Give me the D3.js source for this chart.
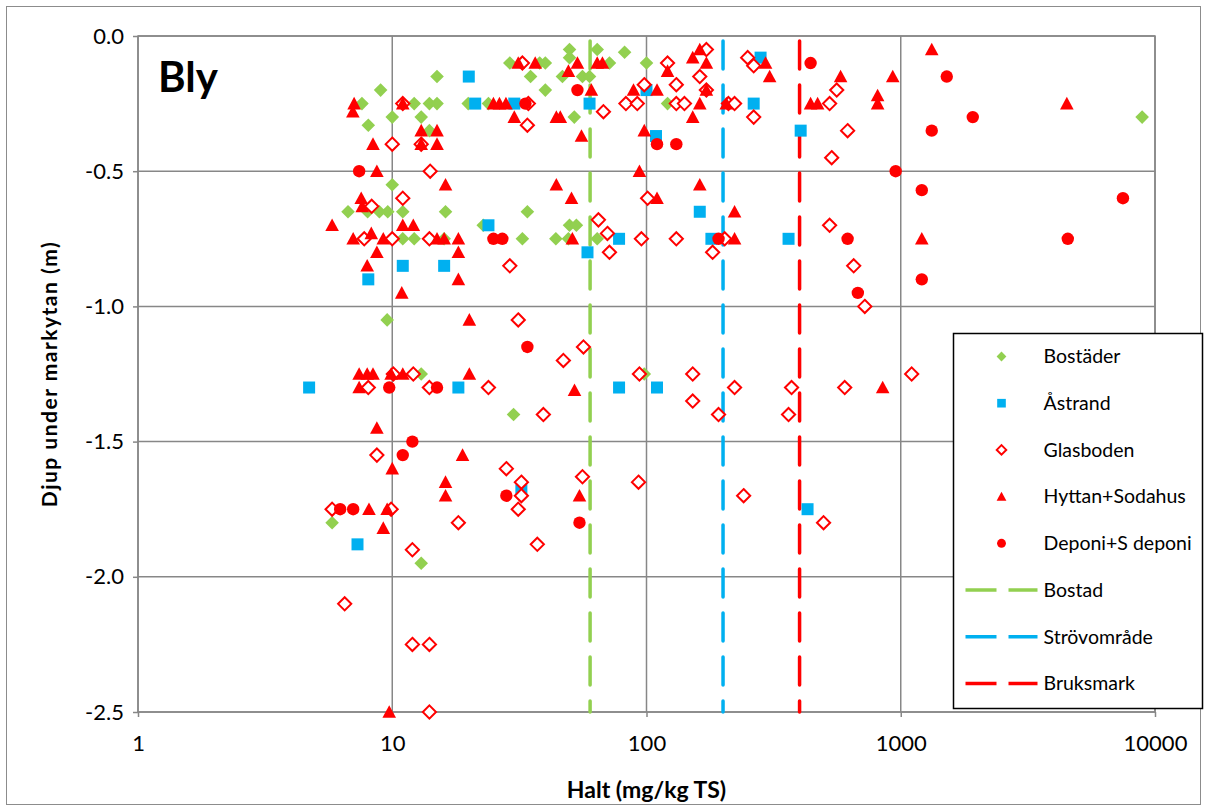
<!DOCTYPE html>
<html>
<head>
<meta charset="utf-8">
<script src="https://cdn.jsdelivr.net/npm/d3@7"></script>
<style>
  body { margin: 0; background: #fff; }
  text { font-family: Lato, "Open Sans", sans-serif; }
</style>
</head>
<body>
<div id="chart"></div>
<script>
// tick labels on the axes
const xTicks = [1, 10, 100, 1000, 10000];
const yTicks = [0, -0.5, -1, -1.5, -2, -2.5];

// series names (legend order)
const seriesNames = ["Bostäder", "Åstrand", "Glasboden", "Hyttan+Sodahus", "Deponi+S deponi"];

// each point is [halt (mg/kg TS), djup (m)]
const bostader = [
  [49.8, -0.05], [64, -0.05], [82, -0.06], [49.8, -0.08],
  [29, -0.1], [38, -0.1], [40, -0.1], [71.5, -0.1], [100, -0.1],
  [15, -0.15], [35, -0.15], [46.7, -0.15], [56, -0.15], [59.7, -0.15],
  [9, -0.2], [40, -0.2],
  [7.6, -0.25], [12.2, -0.25], [14, -0.25], [15, -0.25], [19.9, -0.25], [23.9, -0.25], [121, -0.25],
  [10, -0.3], [13, -0.3], [52, -0.3], [8900, -0.3], [8.05, -0.33], [14, -0.35],
  [10, -0.55],
  [6.7, -0.65], [8, -0.65], [8.9, -0.65], [9.6, -0.65], [11, -0.65], [16.2, -0.65], [34, -0.65],
  [22.8, -0.7], [49.8, -0.7], [53, -0.7],
  [7.7, -0.75], [10, -0.75], [11, -0.75], [12.2, -0.75], [16, -0.75], [32.5, -0.75], [44, -0.75], [49.3, -0.75], [64, -0.75],
  [9.55, -1.05], [13, -1.25], [98, -1.25], [30, -1.4], [5.8, -1.8], [13, -1.95]
];

const astrand = [
  [281, -0.08], [20, -0.15], [100, -0.2], [21.2, -0.25], [30.2, -0.25], [59.7, -0.25], [264, -0.25],
  [404, -0.35], [109, -0.37], [162, -0.65], [23.9, -0.7], [78, -0.75], [180, -0.75], [362, -0.75],
  [58.6, -0.8], [11, -0.85], [16, -0.85], [8.05, -0.9], [4.71, -1.3], [18.2, -1.3], [78, -1.3],
  [110, -1.3], [32.2, -1.68], [430, -1.75], [7.3, -1.88]
];

const glasboden = [
  [172, -0.05], [250, -0.08], [32.5, -0.1], [121, -0.1], [264, -0.11], [162, -0.15], [98, -0.18],
  [131, -0.18], [172, -0.2], [560, -0.2], [11, -0.25], [34.3, -0.25], [83, -0.25], [92, -0.25],
  [131, -0.25], [141, -0.25], [210, -0.25], [222, -0.25], [525, -0.25], [67.7, -0.28], [264, -0.3],
  [34, -0.33], [618, -0.35], [10, -0.4], [13, -0.4], [535, -0.45], [14.1, -0.5], [11, -0.6],
  [101, -0.6], [8.3, -0.63], [64.7, -0.68], [525, -0.7], [70.2, -0.73], [7.76, -0.75], [10, -0.75],
  [14, -0.75], [95.5, -0.75], [131, -0.75], [203, -0.75], [71.5, -0.8], [182, -0.8], [29, -0.85],
  [653, -0.85], [722, -1.0], [31.3, -1.05], [56.5, -1.15], [47.1, -1.2], [10.1, -1.25], [12.1, -1.25],
  [93.8, -1.25], [152, -1.25], [1104, -1.25], [8.05, -1.3], [14, -1.3], [23.9, -1.3], [222, -1.3],
  [372, -1.3], [602, -1.3], [152, -1.35], [39.3, -1.4], [192, -1.4], [362, -1.4], [8.7, -1.55],
  [28.1, -1.6], [56, -1.63], [32.2, -1.65], [93, -1.65], [32.2, -1.7], [241, -1.7], [5.8, -1.75],
  [9.9, -1.75], [31.3, -1.75], [18.2, -1.8], [497, -1.8], [37.2, -1.88], [12, -1.9], [6.5, -2.1],
  [12, -2.25], [14, -2.25], [14, -2.5]
];

const hyttan = [
  [162, -0.05], [1324, -0.05], [152, -0.08], [31.3, -0.1], [36.5, -0.1], [53.5, -0.1], [64, -0.1],
  [67.1, -0.1], [172, -0.1], [294, -0.1], [49.3, -0.13], [121, -0.13], [305, -0.15], [580, -0.15],
  [930, -0.15], [60.7, -0.2], [88.9, -0.2], [110, -0.2], [172, -0.2], [811, -0.22], [7.08, -0.25],
  [11, -0.25], [25, -0.25], [26.4, -0.25], [28, -0.25], [162, -0.25], [206, -0.25], [442, -0.25],
  [471, -0.25], [811, -0.25], [4500, -0.25], [7, -0.28], [30.2, -0.3], [44.2, -0.3], [45.8, -0.3],
  [152, -0.3], [13, -0.35], [15, -0.35], [98, -0.35], [55.5, -0.37], [8.4, -0.4], [13, -0.4],
  [15, -0.4], [8.7, -0.5], [93.8, -0.5], [16.2, -0.55], [44.2, -0.55], [162, -0.55], [7.55, -0.6],
  [50.7, -0.6], [110, -0.6], [7.62, -0.63], [222, -0.65], [5.8, -0.7], [11, -0.7], [12.1, -0.7],
  [8.27, -0.73], [7.02, -0.75], [9.22, -0.75], [15, -0.75], [16, -0.75], [18.2, -0.75], [51.1, -0.75],
  [222, -0.75], [1210, -0.75], [8.7, -0.8], [18.2, -0.8], [7.97, -0.85], [18.2, -0.9], [10.9, -0.95],
  [20.1, -1.05], [7.41, -1.25], [7.97, -1.25], [8.4, -1.25], [9.9, -1.25], [11, -1.25], [20.1, -1.25],
  [7.41, -1.3], [849, -1.3], [52.1, -1.31], [8.7, -1.45], [18.9, -1.55], [10, -1.6], [16.2, -1.65],
  [16.2, -1.7], [54.5, -1.7], [8.1, -1.75], [9.55, -1.75], [9.22, -1.82], [9.73, -2.5]
];

const deponi = [
  [442, -0.1], [1517, -0.15], [53.5, -0.2], [33.4, -0.25], [1920, -0.3], [1324, -0.35], [110, -0.4],
  [131, -0.4], [7.41, -0.5], [955, -0.5], [1210, -0.57], [7480, -0.6], [25, -0.75], [27.1, -0.75],
  [192, -0.75], [618, -0.75], [4540, -0.75], [1210, -0.9], [678, -0.95], [34, -1.15], [9.73, -1.3],
  [15, -1.3], [12, -1.5], [11, -1.55], [28.1, -1.7], [6.24, -1.75], [7.02, -1.75], [54.5, -1.8]
];

// guideline values (riktvärden) shown as dashed vertical lines
const lineNames = ["Bostad", "Strövområde", "Bruksmark"];
const lineValues = [60, 200, 400];

// styles
const green = "#92D050", blue = "#00B0F0", red = "#FF0000";
const seriesData = [bostader, astrand, glasboden, hyttan, deponi];
const seriesShape = ["diamond", "square", "openDiamond", "triangle", "circle"];
const seriesColor = [green, blue, red, red, red];
const lineColor = [green, blue, red];

const W = 1207, H = 811;
const margin = {top: 36, right: 52, bottom: 99, left: 138};
const width = W - margin.left - margin.right;
const height = H - margin.top - margin.bottom;

const svg = d3.select("#chart").append("svg")
  .attr("width", W)
  .attr("height", H);

// outer chart frame
svg.append("rect")
  .attr("x", 6.5).attr("y", 6.5)
  .attr("width", W - 13).attr("height", H - 13)
  .attr("fill", "none").attr("stroke", "#8c8c8c").attr("stroke-width", 1);

const g = svg.append("g")
  .attr("transform", `translate(${margin.left},${margin.top})`);

const x = d3.scaleLog().domain([1, 10000]).range([0, width]);
const y = d3.scaleLinear().domain([-2.5, 0]).range([height, 0]);

// gridlines
g.append("g").selectAll("line").data(xTicks).enter().append("line")
  .attr("x1", d => x(d)).attr("x2", d => x(d))
  .attr("y1", 0).attr("y2", height)
  .attr("stroke", "#878787").attr("stroke-width", 1.5);
g.append("g").selectAll("line").data(yTicks).enter().append("line")
  .attr("x1", 0).attr("x2", width)
  .attr("y1", d => y(d)).attr("y2", d => y(d))
  .attr("stroke", "#878787").attr("stroke-width", 1.5);

// plot area border
g.append("rect")
  .attr("width", width).attr("height", height)
  .attr("fill", "none").attr("stroke", "#878787").attr("stroke-width", 1.5);

// axes
const xAxis = g.append("g")
  .attr("transform", `translate(0,${height})`)
  .call(d3.axisBottom(x).tickValues(xTicks).tickFormat(d3.format("d")).tickSize(5).tickPadding(18));
const yAxis = g.append("g")
  .call(d3.axisLeft(y).tickValues(yTicks).tickFormat(d => d.toFixed(1)).tickSize(5).tickPadding(9));

[xAxis, yAxis].forEach(a => {
  a.select(".domain").remove();
  a.selectAll("line").attr("stroke", "#878787").attr("stroke-width", 1.5);
  a.selectAll("text").attr("font-size", 22).attr("fill", "#000")
    .style("font-family", "Lato, 'Open Sans', sans-serif");
});

// axis titles
svg.append("text")
  .attr("x", margin.left + width / 2).attr("y", 798)
  .attr("text-anchor", "middle")
  .attr("font-size", 23).attr("font-weight", "bold")
  .text("Halt (mg/kg TS)");
svg.append("text")
  .attr("transform", `translate(57,${margin.top + height / 2}) rotate(-90)`)
  .attr("text-anchor", "middle")
  .attr("font-size", 21).attr("font-weight", "bold")
  .attr("letter-spacing", 1.5)
  .text("Djup under markytan (m)");

// chart title inside the plot
g.append("text")
  .attr("x", 20).attr("y", 56)
  .attr("font-size", 42).attr("font-weight", "bold")
  .text("Bly");

// guideline dashed lines (drawn under the markers)
g.append("g").selectAll("line").data(lineValues).enter().append("line")
  .attr("x1", d => x(d)).attr("x2", d => x(d))
  .attr("y1", 5).attr("y2", height)
  .attr("stroke", (d, i) => lineColor[i])
  .attr("stroke-width", 3.5)
  .attr("stroke-linecap", "round")
  .attr("stroke-dasharray", "28,16");

// marker path builder
function symbolPath(shape, s) {
  if (shape === "diamond" || shape === "openDiamond") {
    return `M0,${-s}L${s},0L0,${s}L${-s},0Z`;
  }
  if (shape === "square") {
    return `M${-s},${-s}H${s}V${s}H${-s}Z`;
  }
  if (shape === "triangle") {
    return `M0,${-s}L${s},${s * 0.85}L${-s},${s * 0.85}Z`;
  }
  // circle
  return `M${s},0A${s},${s} 0 1,1 ${-s},0A${s},${s} 0 1,1 ${s},0Z`;
}
const markerSize = {diamond: 6.8, square: 6, openDiamond: 6.6, triangle: 6.8, circle: 6.2};

function styleMarker(sel, i) {
  const shape = seriesShape[i];
  if (shape === "openDiamond") {
    sel.attr("fill", "#fff").attr("stroke", seriesColor[i]).attr("stroke-width", 2);
  } else {
    sel.attr("fill", seriesColor[i]).attr("stroke", "none");
  }
}

// scatter series
seriesData.forEach((data, i) => {
  const pts = g.append("g").selectAll("path").data(data).enter().append("path")
    .attr("transform", d => `translate(${x(d[0])},${y(d[1])})`)
    .attr("d", symbolPath(seriesShape[i], markerSize[seriesShape[i]]));
  styleMarker(pts, i);
});

// legend
const legend = svg.append("g").attr("transform", "translate(953.5,333.5)");
legend.append("rect")
  .attr("width", 249).attr("height", 375)
  .attr("fill", "#fff").attr("stroke", "#000").attr("stroke-width", 1.5);

seriesNames.forEach((name, i) => {
  const row = legend.append("g").attr("transform", `translate(0,${23 + i * 46.7})`);
  const m = row.append("path")
    .attr("transform", "translate(48,0)")
    .attr("d", symbolPath(seriesShape[i], markerSize[seriesShape[i]] * 0.72));
  styleMarker(m, i);
  row.append("text").attr("x", 90).attr("y", 0).attr("dy", "0.35em")
    .attr("font-size", 19.5).text(name);
});

lineNames.forEach((name, i) => {
  const row = legend.append("g").attr("transform", `translate(0,${23 + (i + 5) * 46.7})`);
  row.append("line")
    .attr("x1", 12).attr("x2", 84)
    .attr("stroke", lineColor[i]).attr("stroke-width", 3.5)
    .attr("stroke-dasharray", "31,12");
  row.append("text").attr("x", 90).attr("y", 0).attr("dy", "0.35em")
    .attr("font-size", 19.5).text(name);
});
</script>
</body>
</html>
